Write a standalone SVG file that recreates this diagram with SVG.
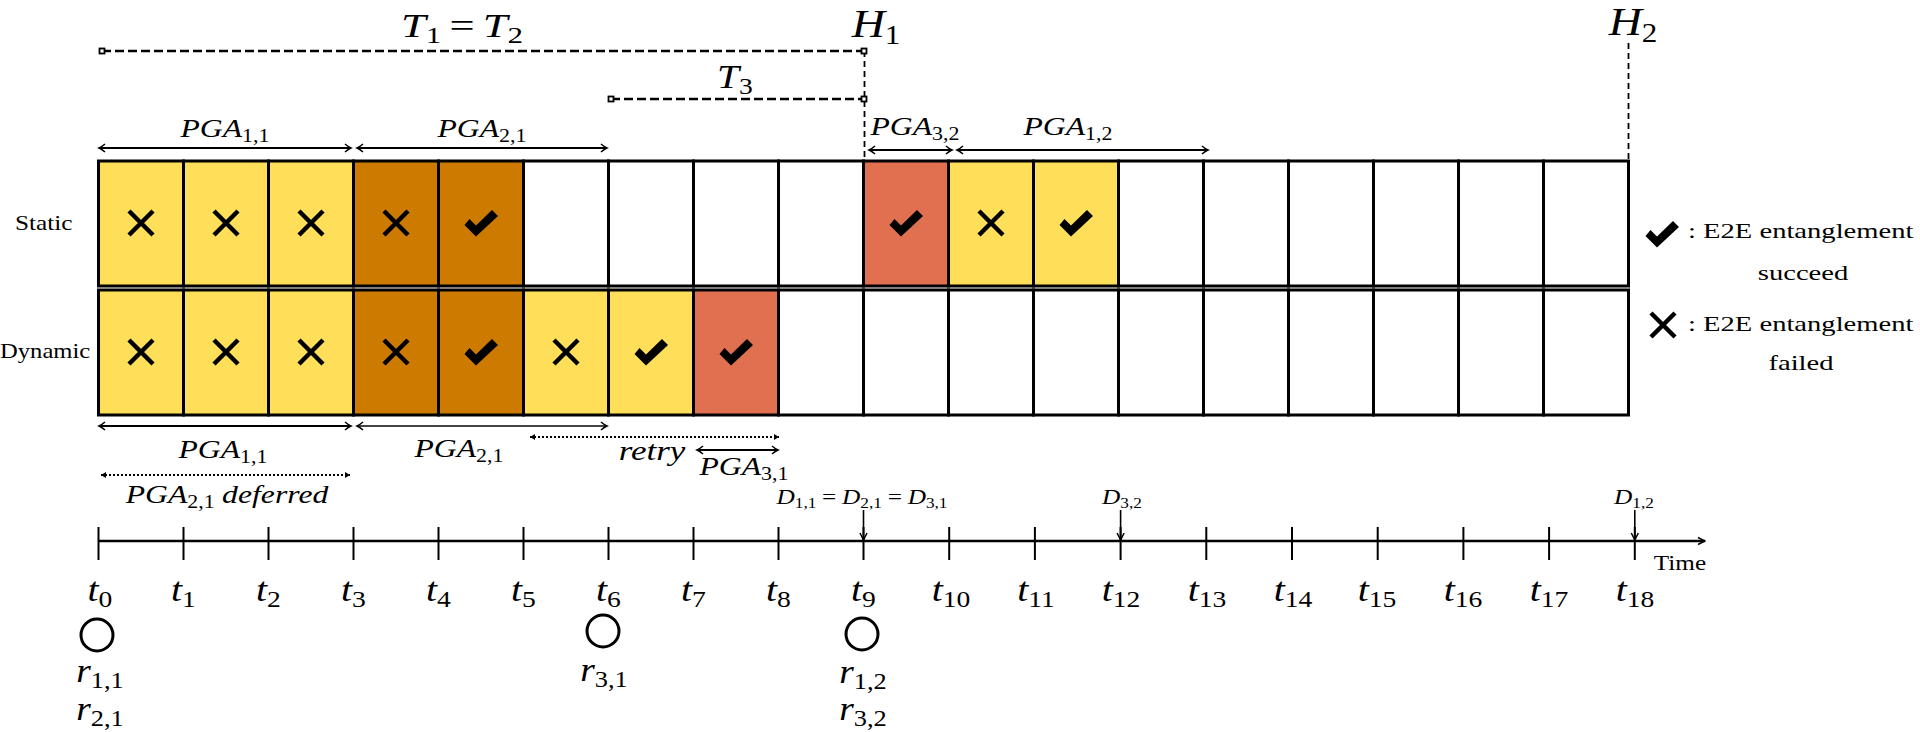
<svg xmlns="http://www.w3.org/2000/svg" width="1920" height="732" viewBox="0 0 1920 732">
<style>
.cell{stroke:#000;stroke-width:3}
.y{fill:#FFDE59}.o{fill:#CC7A00}.r{fill:#E07050}.w{fill:#fff}
.xm{stroke:#000;stroke-width:4.5;fill:none}
.ck{fill:#000}
.m{font-family:"Liberation Serif","DejaVu Serif","Times New Roman",serif;font-style:italic;fill:#000}
.n{font-family:"Liberation Serif","DejaVu Serif","Times New Roman",serif;font-style:normal;fill:#000}
.sub{font-style:normal}
.ar{stroke:#000;stroke-width:2;fill:none}
.dot{stroke-dasharray:2 2}
.dash{stroke:#000;stroke-width:2.3;fill:none;stroke-dasharray:9 4}
.vd{stroke:#000;stroke-width:1.8;fill:none;stroke-dasharray:6 4}
.sq{fill:#fff;stroke:#000;stroke-width:1.8}
.tick{stroke:#000;stroke-width:2}
</style>
<defs>
<path id="x" d="M-12,-12 L12,12 M12,-12 L-12,12"/>
<path id="c" d="M-16.5,2 L-11.5,-4 L-5,2.5 L11,-13 L17,-7 L-5,13.5 Z"/>
<marker id="ah" viewBox="-8 -5 10 10" refX="0" refY="0" markerWidth="10" markerHeight="10" markerUnits="userSpaceOnUse" orient="auto-start-reverse">
<path d="M-6,-4 Q-2.5,-1 0,0 Q-2.5,1 -6,4" fill="none" stroke="#000" stroke-width="1.5"/>
</marker>
<marker id="fh" viewBox="-8 -5 10 10" refX="0" refY="0" markerWidth="10" markerHeight="10" markerUnits="userSpaceOnUse" orient="auto-start-reverse">
<path d="M-5,-3 L0,0 L-5,3 Z" fill="#000"/>
</marker>
<marker id="ta" viewBox="-9 -5 10 10" refX="0" refY="0" markerWidth="10" markerHeight="10" markerUnits="userSpaceOnUse" orient="auto">
<path d="M-7,-3.5 L0,0 L-7,3.5" fill="none" stroke="#000" stroke-width="1.5"/>
</marker>
</defs>
<rect width="1920" height="732" fill="#fff"/>

<g id="rowlabels">
<text class="n" font-size="22" transform="translate(15,230) scale(1.15,1)">Static</text>
<text class="n" font-size="22" transform="translate(0,358) scale(1.12,1)">Dynamic</text>
</g>

<g id="static-row">
<g id="s0"><rect class="cell y" x="98.5" y="161" width="85" height="125"/><use href="#x" class="xm" x="141" y="223"/></g>
<g id="s1"><rect class="cell y" x="183.5" y="161" width="85" height="125"/><use href="#x" class="xm" x="226" y="223"/></g>
<g id="s2"><rect class="cell y" x="268.5" y="161" width="85" height="125"/><use href="#x" class="xm" x="311" y="223"/></g>
<g id="s3"><rect class="cell o" x="353.5" y="161" width="85" height="125"/><use href="#x" class="xm" x="396" y="223"/></g>
<g id="s4"><rect class="cell o" x="438.5" y="161" width="85" height="125"/><use href="#c" class="ck" x="481" y="223"/></g>
<g id="s5"><rect class="cell w" x="523.5" y="161" width="85" height="125"/></g>
<g id="s6"><rect class="cell w" x="608.5" y="161" width="85" height="125"/></g>
<g id="s7"><rect class="cell w" x="693.5" y="161" width="85" height="125"/></g>
<g id="s8"><rect class="cell w" x="778.5" y="161" width="85" height="125"/></g>
<g id="s9"><rect class="cell r" x="863.5" y="161" width="85" height="125"/><use href="#c" class="ck" x="906" y="223"/></g>
<g id="s10"><rect class="cell y" x="948.5" y="161" width="85" height="125"/><use href="#x" class="xm" x="991" y="223"/></g>
<g id="s11"><rect class="cell y" x="1033.5" y="161" width="85" height="125"/><use href="#c" class="ck" x="1076" y="223"/></g>
<g id="s12"><rect class="cell w" x="1118.5" y="161" width="85" height="125"/></g>
<g id="s13"><rect class="cell w" x="1203.5" y="161" width="85" height="125"/></g>
<g id="s14"><rect class="cell w" x="1288.5" y="161" width="85" height="125"/></g>
<g id="s15"><rect class="cell w" x="1373.5" y="161" width="85" height="125"/></g>
<g id="s16"><rect class="cell w" x="1458.5" y="161" width="85" height="125"/></g>
<g id="s17"><rect class="cell w" x="1543.5" y="161" width="85" height="125"/></g>
</g>

<g id="dynamic-row">
<g id="d0"><rect class="cell y" x="98.5" y="290" width="85" height="125"/><use href="#x" class="xm" x="141" y="352"/></g>
<g id="d1"><rect class="cell y" x="183.5" y="290" width="85" height="125"/><use href="#x" class="xm" x="226" y="352"/></g>
<g id="d2"><rect class="cell y" x="268.5" y="290" width="85" height="125"/><use href="#x" class="xm" x="311" y="352"/></g>
<g id="d3"><rect class="cell o" x="353.5" y="290" width="85" height="125"/><use href="#x" class="xm" x="396" y="352"/></g>
<g id="d4"><rect class="cell o" x="438.5" y="290" width="85" height="125"/><use href="#c" class="ck" x="481" y="352"/></g>
<g id="d5"><rect class="cell y" x="523.5" y="290" width="85" height="125"/><use href="#x" class="xm" x="566" y="352"/></g>
<g id="d6"><rect class="cell y" x="608.5" y="290" width="85" height="125"/><use href="#c" class="ck" x="651" y="352"/></g>
<g id="d7"><rect class="cell r" x="693.5" y="290" width="85" height="125"/><use href="#c" class="ck" x="736" y="352"/></g>
<g id="d8"><rect class="cell w" x="778.5" y="290" width="85" height="125"/></g>
<g id="d9"><rect class="cell w" x="863.5" y="290" width="85" height="125"/></g>
<g id="d10"><rect class="cell w" x="948.5" y="290" width="85" height="125"/></g>
<g id="d11"><rect class="cell w" x="1033.5" y="290" width="85" height="125"/></g>
<g id="d12"><rect class="cell w" x="1118.5" y="290" width="85" height="125"/></g>
<g id="d13"><rect class="cell w" x="1203.5" y="290" width="85" height="125"/></g>
<g id="d14"><rect class="cell w" x="1288.5" y="290" width="85" height="125"/></g>
<g id="d15"><rect class="cell w" x="1373.5" y="290" width="85" height="125"/></g>
<g id="d16"><rect class="cell w" x="1458.5" y="290" width="85" height="125"/></g>
<g id="d17"><rect class="cell w" x="1543.5" y="290" width="85" height="125"/></g>
</g>

<g id="connectors">
<path class="dash" d="M102,51 H864"/>
<path class="dash" d="M611,99 H864"/>
<path class="vd" d="M864.5,51 V160"/>
<path class="vd" d="M1628.5,43 V160"/>
<rect class="sq" x="99.5" y="48.5" width="5" height="5"/>
<rect class="sq" x="861.5" y="48.5" width="5" height="5"/>
<rect class="sq" x="608.5" y="96.5" width="5" height="5"/>
<rect class="sq" x="861.5" y="96.5" width="5" height="5"/>
<path class="ar" d="M99,148 H351" marker-start="url(#ah)" marker-end="url(#ah)"/>
<path class="ar" d="M357,148 H607" marker-start="url(#ah)" marker-end="url(#ah)"/>
<path class="ar" d="M869,150 H952" marker-start="url(#ah)" marker-end="url(#ah)"/>
<path class="ar" d="M957,150 H1208" marker-start="url(#ah)" marker-end="url(#ah)"/>
<path class="ar" d="M99,426 H351" marker-start="url(#ah)" marker-end="url(#ah)"/>
<path class="ar" d="M357,426 H607" marker-start="url(#ah)" marker-end="url(#ah)" style="stroke:#444"/>
<path class="ar dot" d="M530,437 H779" marker-start="url(#fh)" marker-end="url(#fh)"/>
<path class="ar" d="M697,450 H778" marker-start="url(#ah)" marker-end="url(#ah)"/>
<path class="ar dot" d="M101,475 H350" marker-start="url(#fh)" marker-end="url(#fh)"/>
<path class="ar" d="M863.5,510 V540" marker-end="url(#ta)" style="stroke-width:1.6"/>
<path class="ar" d="M1120.6,510 V540" marker-end="url(#ta)" style="stroke-width:1.6"/>
<path class="ar" d="M1634.8,510 V540" marker-end="url(#ta)" style="stroke-width:1.6"/>
</g>

<g id="timeline">
<path class="ar" d="M98.5,541 H1705" marker-end="url(#ta)" style="stroke-width:2.5"/>
<path class="tick" d="M98.5,527 V560 M183.5,527 V560 M268.5,527 V560 M353.5,527 V560 M438.5,527 V560 M523.5,527 V560 M608.5,527 V560 M693.5,527 V560 M778.5,527 V560 M863.5,527 V560 M949.2,527 V560 M1034.9,527 V560 M1120.6,527 V560 M1206.3,527 V560 M1292,527 V560 M1377.7,527 V560 M1463.4,527 V560 M1549.1,527 V560 M1634.8,527 V560"/>
<text class="n" font-size="21" transform="translate(1680,570) scale(1.2,1)" text-anchor="middle">Time</text>
</g>

<g id="tick-labels" class="m" font-size="33" text-anchor="middle">
<text transform="translate(100,601) scale(1.2,1)">t<tspan class="sub" font-size="23" dy="6">0</tspan></text>
<text transform="translate(183.5,601) scale(1.2,1)">t<tspan class="sub" font-size="23" dy="6">1</tspan></text>
<text transform="translate(268.5,601) scale(1.2,1)">t<tspan class="sub" font-size="23" dy="6">2</tspan></text>
<text transform="translate(353.5,601) scale(1.2,1)">t<tspan class="sub" font-size="23" dy="6">3</tspan></text>
<text transform="translate(438.5,601) scale(1.2,1)">t<tspan class="sub" font-size="23" dy="6">4</tspan></text>
<text transform="translate(523.5,601) scale(1.2,1)">t<tspan class="sub" font-size="23" dy="6">5</tspan></text>
<text transform="translate(608.5,601) scale(1.2,1)">t<tspan class="sub" font-size="23" dy="6">6</tspan></text>
<text transform="translate(693.5,601) scale(1.2,1)">t<tspan class="sub" font-size="23" dy="6">7</tspan></text>
<text transform="translate(778.5,601) scale(1.2,1)">t<tspan class="sub" font-size="23" dy="6">8</tspan></text>
<text transform="translate(863.5,601) scale(1.2,1)">t<tspan class="sub" font-size="23" dy="6">9</tspan></text>
<text transform="translate(951,601) scale(1.2,1)">t<tspan class="sub" font-size="23" dy="6">10</tspan></text>
<text transform="translate(1036,601) scale(1.2,1)">t<tspan class="sub" font-size="23" dy="6">11</tspan></text>
<text transform="translate(1121,601) scale(1.2,1)">t<tspan class="sub" font-size="23" dy="6">12</tspan></text>
<text transform="translate(1207,601) scale(1.2,1)">t<tspan class="sub" font-size="23" dy="6">13</tspan></text>
<text transform="translate(1293,601) scale(1.2,1)">t<tspan class="sub" font-size="23" dy="6">14</tspan></text>
<text transform="translate(1377,601) scale(1.2,1)">t<tspan class="sub" font-size="23" dy="6">15</tspan></text>
<text transform="translate(1463,601) scale(1.2,1)">t<tspan class="sub" font-size="23" dy="6">16</tspan></text>
<text transform="translate(1549,601) scale(1.2,1)">t<tspan class="sub" font-size="23" dy="6">17</tspan></text>
<text transform="translate(1635,601) scale(1.2,1)">t<tspan class="sub" font-size="23" dy="6">18</tspan></text>
</g>

<g id="top-labels" class="m" text-anchor="middle">
<text font-size="33" transform="translate(462,37) scale(1.35,1)">T<tspan class="sub" font-size="23" dy="6">1</tspan><tspan class="sub" font-size="33" dy="-6" dx="6">=</tspan><tspan dx="6">T</tspan><tspan class="sub" font-size="23" dy="6">2</tspan></text>
<text font-size="40" transform="translate(876,37) scale(1.15,1)">H<tspan class="sub" font-size="27" dy="7">1</tspan></text>
<text font-size="40" transform="translate(1633,35) scale(1.15,1)">H<tspan class="sub" font-size="27" dy="7">2</tspan></text>
<text font-size="33" transform="translate(735,88) scale(1.2,1)">T<tspan class="sub" font-size="23" dy="6">3</tspan></text>
<text font-size="26" transform="translate(225,137) scale(1.22,1)">PGA<tspan class="sub" font-size="18" dy="5">1,1</tspan></text>
<text font-size="26" transform="translate(482,137) scale(1.22,1)">PGA<tspan class="sub" font-size="18" dy="5">2,1</tspan></text>
<text font-size="26" transform="translate(915,135) scale(1.22,1)">PGA<tspan class="sub" font-size="18" dy="5">3,2</tspan></text>
<text font-size="26" transform="translate(1068,135) scale(1.22,1)">PGA<tspan class="sub" font-size="18" dy="5">1,2</tspan></text>
</g>

<g id="bottom-labels" class="m" text-anchor="middle">
<text font-size="26" transform="translate(223,458) scale(1.22,1)">PGA<tspan class="sub" font-size="18" dy="5">1,1</tspan></text>
<text font-size="26" transform="translate(459,457) scale(1.22,1)">PGA<tspan class="sub" font-size="18" dy="5">2,1</tspan></text>
<text font-size="28" transform="translate(652,460) scale(1.25,1)">retry</text>
<text font-size="26" transform="translate(744,475) scale(1.22,1)">PGA<tspan class="sub" font-size="18" dy="5">3,1</tspan></text>
<text font-size="26" transform="translate(227,503) scale(1.22,1)">PGA<tspan class="sub" font-size="18" dy="5">2,1</tspan><tspan dy="-5" dx="6">deferred</tspan></text>
<text font-size="22" transform="translate(862,504) scale(1.15,1)">D<tspan class="sub" font-size="15" dy="4">1,1</tspan><tspan class="sub" dy="-4" dx="5">=</tspan><tspan dx="5">D</tspan><tspan class="sub" font-size="15" dy="4">2,1</tspan><tspan class="sub" dy="-4" dx="5">=</tspan><tspan dx="5">D</tspan><tspan class="sub" font-size="15" dy="4">3,1</tspan></text>
<text font-size="22" transform="translate(1122,504) scale(1.15,1)">D<tspan class="sub" font-size="15" dy="4">3,2</tspan></text>
<text font-size="22" transform="translate(1634,504) scale(1.15,1)">D<tspan class="sub" font-size="15" dy="4">1,2</tspan></text>
</g>

<g id="requests">
<circle cx="97" cy="635" r="16" fill="none" stroke="#000" stroke-width="3"/>
<circle cx="603" cy="631" r="16" fill="none" stroke="#000" stroke-width="3"/>
<circle cx="862" cy="634" r="16" fill="none" stroke="#000" stroke-width="3"/>
<g class="m" font-size="34" text-anchor="middle">
<text transform="translate(100,682) scale(1.1,1)">r<tspan class="sub" font-size="24" dy="6">1,1</tspan></text>
<text transform="translate(100,720) scale(1.1,1)">r<tspan class="sub" font-size="24" dy="6">2,1</tspan></text>
<text transform="translate(604,681) scale(1.1,1)">r<tspan class="sub" font-size="24" dy="6">3,1</tspan></text>
<text transform="translate(863,683) scale(1.1,1)">r<tspan class="sub" font-size="24" dy="6">1,2</tspan></text>
<text transform="translate(863,720) scale(1.1,1)">r<tspan class="sub" font-size="24" dy="6">3,2</tspan></text>
</g>
</g>

<g id="legend">
<use href="#c" class="ck" x="1662" y="234"/>
<use href="#x" class="xm" x="1663" y="325"/>
<text class="n" font-size="22" transform="translate(1688,238) scale(1.3,1)">: E2E entanglement</text>
<text class="n" font-size="22" transform="translate(1803,280) scale(1.3,1)" text-anchor="middle">succeed</text>
<text class="n" font-size="22" transform="translate(1688,331) scale(1.3,1)">: E2E entanglement</text>
<text class="n" font-size="22" transform="translate(1801,370) scale(1.3,1)" text-anchor="middle">failed</text>
</g>
</svg>
